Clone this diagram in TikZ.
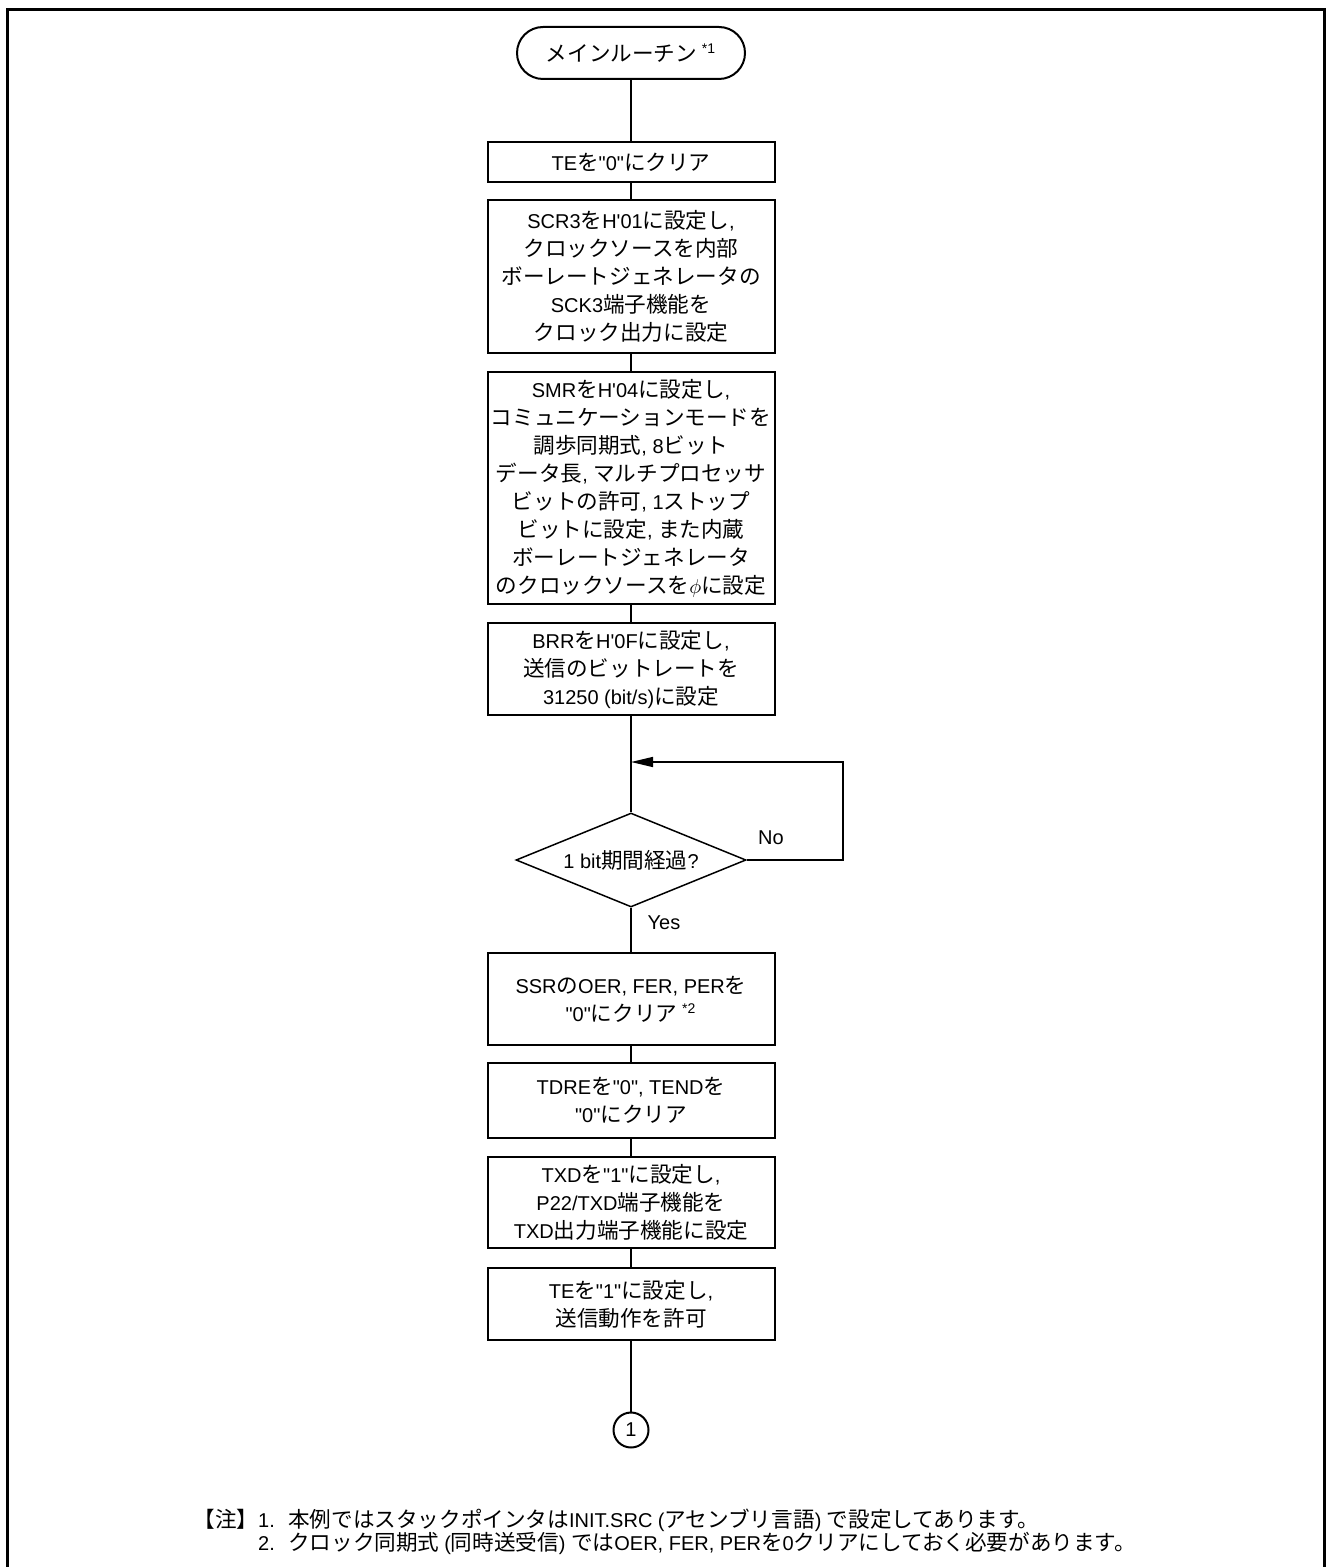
\documentclass[tikz,border=0pt]{standalone}
\usepackage{fontspec}
\setmainfont{Liberation Sans}
\newfontfamily\latinfont{Liberation Sans}
\newfontfamily\cjkfont[Scale=1.08]{Noto Sans CJK JP}
\usetikzlibrary{shapes.geometric,arrows.meta}
\chardef\cjkclass=7
\newcount\mycnt
\def\setcjkrange#1#2{\mycnt=#1\relax\loop\XeTeXcharclass\mycnt=\cjkclass\relax\ifnum\mycnt<#2\relax\advance\mycnt by 1\repeat}
\setcjkrange{"3000}{"30FF}
\setcjkrange{"4E00}{"9FFF}
\setcjkrange{"FF00}{"FFEF}
\XeTeXinterchartoks 0 \cjkclass = {\cjkfont}
\XeTeXinterchartoks 4095 \cjkclass = {\cjkfont}
\XeTeXinterchartoks \cjkclass 0 = {\latinfont}
\XeTeXinterchartoks 4095 0 = {\latinfont}
\XeTeXinterchartokenstate=1
\begin{document}
\begin{tikzpicture}[x=0.5pt,y=-0.5pt,
  every node/.style={font=\fontsize{10}{14}\selectfont, text=black},
  box/.style={draw, line width=1pt, minimum width=143.5pt, inner sep=0pt, align=center},
  conn/.style={line width=0.75pt},
  lbl/.style={inner sep=0pt}]
\useasboundingbox (0,0) rectangle (1326,1567);
\draw[line width=1.5pt] (7,1600) -- (7,10) -- (1324.5,10) -- (1324.5,1600);

\node (start) [draw, line width=1pt, rounded corners=13pt, minimum width=114pt, minimum height=26pt, inner sep=0pt] at (631,53) {メインルーチン \textsuperscript{*1}};
\node (b1) [box, minimum height=20pt] at (631,162.5) {TEを"0"にクリア};
\node (b2) [box, minimum height=76.5pt] at (631,276.5) {SCR3をH'01に設定し,\\クロックソースを内部\\ボーレートジェネレータの\\SCK3端子機能を\\クロック出力に設定};
\node (b3) [box, minimum height=116pt] at (631,488) {SMRをH'04に設定し,\\コミュニケーションモードを\\調歩同期式, 8ビット\\データ長, マルチプロセッサ\\ビットの許可, 1ストップ\\ビットに設定, また内蔵\\ボーレートジェネレータ\\のクロックソースを$\phi$に設定};
\node (b4) [box, minimum height=46pt] at (631,669) {BRRをH'0Fに設定し,\\送信のビットレートを\\31250 (bit/s)に設定};
\node (dec) [draw, diamond, line width=0.75pt, minimum width=115pt, minimum height=47pt, inner sep=0pt, shape aspect=2.4] at (631,860) {1 bit期間経過?};
\node (b5) [box, minimum height=46pt] at (631,999) {SSRのOER, FER, PERを\\"0"にクリア \textsuperscript{*2}};
\node (b6) [box, minimum height=37.5pt] at (631,1100.5) {TDREを"0", TENDを\\"0"にクリア};
\node (b7) [box, minimum height=45.5pt] at (631,1202.5) {TXDを"1"に設定し,\\P22/TXD端子機能を\\TXD出力端子機能に設定};
\node (b8) [box, minimum height=36pt] at (631,1304) {TEを"1"に設定し,\\送信動作を許可};
\node (con) [draw, circle, line width=1pt, minimum size=17.5pt, inner sep=0pt] at (631,1430) {1};

\draw[conn] (start) -- (b1);
\draw[conn] (b1) -- (b2);
\draw[conn] (b2) -- (b3);
\draw[conn] (b3) -- (b4);
\draw[conn] (b4) -- (dec);
\coordinate (loopB) at (843,762);
\draw[conn, -{Triangle[length=11pt,width=5pt]}] (dec.east) -| (loopB) -- (loopB -| dec.north);
\node[lbl] (no) at (771,838) {No};
\node[lbl] (yes) at (664,923) {Yes};
\draw[conn] (dec) -- (b5);
\draw[conn] (b5) -- (b6);
\draw[conn] (b6) -- (b7);
\draw[conn] (b7) -- (b8);
\draw[conn] (b8) -- (con);

\node[anchor=west, inner sep=0pt] (note1) at (193,1520) {【注】1.\hspace{3pt} 本例ではスタックポインタはINIT.SRC (アセンブリ言語) で設定してあります。};
\node[anchor=west, inner sep=0pt] (note2) at (193,1543) {\phantom{【注】}2.\hspace{3pt} クロック同期式 (同時送受信) ではOER, FER, PERを0クリアにしておく必要があります。};
\end{tikzpicture}
\end{document}
